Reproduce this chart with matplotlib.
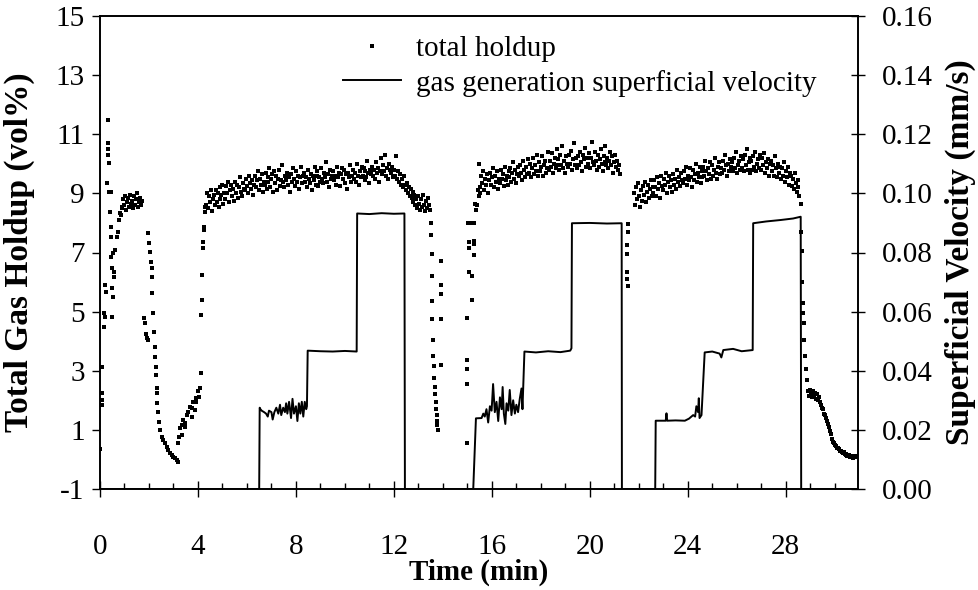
import numpy as np
import matplotlib.pyplot as plt
from matplotlib.ticker import MultipleLocator, FixedLocator, FormatStrFormatter

plt.rcParams['font.family'] = ['Liberation Serif', 'DejaVu Serif']
plt.rcParams['axes.unicode_minus'] = False

# ---- total holdup (vol%), transitions: explicit (time, value) pairs ----
start_t = [0.0, 0.07, 0.08, 0.08, 0.08, 0.18, 0.19, 0.18, 0.21, 0.23,
           0.34, 0.31, 0.32, 0.34, 0.35, 0.27, 0.37, 0.42, 0.45,
           0.41, 0.45, 0.44, 0.45, 0.54, 0.48, 0.58, 0.58, 0.50, 0.54, 0.50,
           0.63, 0.68, 0.72, 0.77, 0.81, 0.85, 0.88]
start_v = [0.34, 2.24, 2.0, 1.84, 3.12, 4.94, 4.83, 4.49, 5.9, 5.68,
           11.48, 10.69, 10.5, 10.3, 10.02, 9.34, 9.06, 9.06, 9.06,
           8.38, 7.87, 7.54, 6.86, 6.97, 6.47, 6.35, 6.18, 5.79, 5.51, 4.83,
           7.08, 7.54, 7.7, 8.1, 8.33, 8.27, 8.55]

# small plateau 0.9 - 1.7 min (0.04 min sampling)
p0_start = 0.9
p0_v = [8.5, 8.8, 8.6, 8.9, 8.45, 8.7, 8.85, 8.55, 8.95, 8.65, 8.75,
        8.5, 8.9, 8.6, 8.8, 9.0, 8.55, 8.7, 8.85, 8.6, 8.75]

fall1_t = [1.81, 1.84, 1.87, 1.91, 1.95, 1.97, 1.99, 2.04, 2.08, 2.11, 2.13,
           2.14, 2.17, 2.21, 2.24, 2.24, 2.27, 2.27, 2.31, 2.32, 2.34, 2.38,
           2.41, 2.47, 2.52, 2.59, 2.65, 2.72, 2.79, 2.86, 2.93, 3.0, 3.06,
           3.13, 3.17]
fall1_v = [4.77, 4.6, 4.26, 4.1, 4.04, 7.65, 7.31, 7.03, 6.69, 6.47, 6.18,
           5.62, 4.94, 4.32, 3.81, 3.48, 3.14, 2.86, 2.41, 2.24, 1.9, 1.62,
           1.28, 0.99, 0.77, 0.66, 0.55, 0.43, 0.32, 0.21, 0.15, 0.09, 0.04,
           -0.02, -0.08]

rise1_t = [3.2, 3.22, 3.27, 3.33, 3.34, 3.4, 3.47, 3.49, 3.54, 3.6, 3.67,
           3.74, 3.76, 3.81, 3.88, 3.9, 3.94, 4.01, 4.04, 4.08, 4.12, 4.12,
           4.18, 4.18, 4.22, 4.22, 4.26, 4.26, 4.29, 4.29]
rise1_v = [0.55, 0.77, 1.05, 1.17, 0.83, 1.33, 1.22, 1.11, 1.5, 1.62, 1.78,
           1.45, 1.73, 1.95, 1.67, 2.07, 1.95, 2.3, 2.12, 2.41, 2.91, 4.89,
           5.4, 6.24, 7.14, 7.37, 7.76, 7.87, 8.38, 8.55]

# plateau 1, 4.32 - 12.40 min
p1_start = 4.32
p1_v = [8.6, 9.0, 8.5, 8.9, 8.7, 9.1, 8.4, 8.8, 8.95, 8.6,
        9.1, 8.7, 9.0, 8.55, 9.2, 8.8, 8.95, 9.3, 8.65, 9.0,
        8.8, 9.25, 9.0, 9.4, 8.7, 9.1, 9.3, 8.9, 9.15, 8.75,
        9.4, 9.0, 9.3, 8.85, 9.2, 9.55, 9.05, 8.9, 9.35, 9.15,
        9.1, 9.5, 9.25, 9.0, 9.6, 9.35, 9.15, 9.45, 8.95, 9.3,
        9.6, 9.2, 9.45, 9.75, 9.1, 9.5, 9.3, 9.65, 9.05, 9.4,
        9.3, 9.7, 9.15, 9.55, 9.4, 9.85, 9.2, 9.5, 9.65, 9.05,
        9.75, 9.35, 9.6, 9.1, 9.5, 9.8, 9.25, 9.45, 9.95, 9.4,
        9.2, 9.6, 9.45, 9.7, 9.3, 9.55, 9.05, 9.65, 9.4, 9.85,
        9.5, 9.25, 9.75, 9.4, 9.6, 9.15, 9.55, 9.9, 9.35, 9.6,
        9.7, 9.4, 9.55, 9.2, 9.8, 9.5, 9.35, 9.65, 9.1, 9.6,
        9.45, 9.9, 9.3, 9.6, 9.75, 9.25, 9.55, 9.4, 9.85, 9.5,
        9.35, 9.7, 9.55, 10.05, 9.4, 9.65, 9.2, 9.8, 9.5, 9.6,
        9.75, 9.45, 9.6, 9.3, 9.9, 9.55, 9.7, 9.25, 9.65, 9.85,
        9.5, 9.8, 9.35, 9.65, 9.15, 9.7, 9.55, 9.95, 9.4, 9.6,
        9.8, 9.5, 9.7, 9.4, 10.0, 9.6, 9.3, 9.75, 9.55, 9.9,
        9.6, 9.85, 9.45, 9.75, 9.55, 10.1, 9.7, 9.35, 9.8, 9.65,
        9.9, 9.6, 9.8, 9.5, 10.05, 9.7, 9.85, 9.4, 9.75, 10.2,
        9.65, 9.95, 9.75, 10.3, 9.6, 9.85, 9.5, 10.0, 9.8, 9.7,
        9.9, 9.55, 9.8, 9.6, 10.25, 9.5, 9.75, 9.4, 9.65, 9.3,
        9.5, 9.2, 9.6]

# shoulder after gas stopped, 12.44 - 13.48 min
p1b_start = 12.44
p1b_v = [9.3, 9.1, 9.35, 9.0, 9.2, 8.9, 9.15, 8.85, 9.05, 8.7, 8.95, 8.6,
         8.8, 8.5, 8.9, 8.65, 8.45, 8.8, 8.55, 8.95, 8.6, 8.4, 8.75, 8.5,
         8.85, 8.6, 8.45]

fall2_t = [13.52, 13.53, 13.54, 13.55, 13.56, 13.57, 13.58, 13.6, 13.62,
           13.64, 13.66, 13.68, 13.7, 13.72, 13.74, 13.76, 13.78, 13.8,
           13.92, 13.92, 13.92, 13.93, 13.93]
fall2_v = [8.0, 7.6, 6.95, 6.2, 5.35, 4.75, 4.05, 3.5, 3.15, 2.75, 2.45,
           2.2, 1.95, 1.7, 1.5, 1.3, 1.15, 1.0,
           6.7, 5.9, 5.6, 4.75, 3.2]

rise2_t = [14.97, 14.98, 14.98, 14.98, 14.99, 15.05, 15.08, 15.08, 15.02,
           15.1, 15.18, 15.17, 15.28, 15.28, 15.28, 15.29, 15.32, 15.36,
           15.4, 15.45, 15.48, 15.5, 15.47]
rise2_v = [0.55, 2.55, 3.05, 3.35, 4.8, 6.35, 7.15, 7.35, 8.0, 8.0, 5.4,
           6.2, 8.0, 7.4, 7.3, 6.9, 8.65, 8.45, 8.6, 9.1, 8.9, 9.0, 10.0]

# plateau 2, 15.52 - 21.24 min
p2_start = 15.52
p2_v = [9.2, 9.6, 9.35, 9.75, 9.1, 9.5, 9.3, 9.65, 9.0, 9.45,
        9.7, 9.3, 9.55, 9.85, 9.2, 9.6, 9.4, 9.75, 9.15, 9.5,
        9.35, 9.8, 9.5, 9.65, 9.25, 9.9, 9.45, 9.6, 9.3, 9.75,
        9.55, 9.85, 9.4, 9.7, 10.05, 9.5, 9.8, 9.35, 9.65, 9.9,
        9.6, 9.95, 9.7, 9.45, 10.1, 9.8, 9.55, 9.9, 9.65, 10.15,
        9.7, 10.0, 9.55, 9.85, 10.2, 9.65, 9.95, 9.75, 10.3, 9.6,
        10.05, 9.75, 9.9, 10.25, 9.6, 9.95, 10.1, 9.7, 9.85, 10.4,
        9.8, 10.1, 9.9, 10.35, 9.7, 10.0, 10.2, 9.85, 10.5, 9.95,
        10.15, 9.8, 10.3, 9.95, 10.6, 9.85, 10.1, 9.7, 10.25, 10.0,
        9.9, 10.3, 10.0, 10.45, 9.8, 10.15, 10.7, 9.95, 10.2, 9.85,
        10.25, 9.95, 10.4, 10.05, 9.75, 10.3, 10.15, 10.55, 9.9, 10.2,
        10.0, 10.35, 9.85, 10.2, 10.75, 10.05, 9.95, 10.4, 10.1, 9.8,
        10.3, 9.9, 10.15, 10.5, 10.0, 9.75, 10.25, 10.05, 10.6, 9.95,
        10.2, 9.85, 10.1, 10.4, 9.95, 10.25, 9.7, 10.05, 10.3, 9.9,
        10.1, 9.8, 9.95, 9.65]

dip_t = [21.55, 21.56, 21.52, 21.53, 21.5, 21.52, 21.54]
dip_v = [7.95, 7.7, 7.25, 6.95, 6.35, 6.1, 5.85]

p2b_start = 21.8
p2b_v = [9.0, 8.6, 9.2, 8.8, 9.35, 8.9, 8.55, 9.1, 8.75, 9.25, 8.95, 9.4,
         8.7, 9.05, 9.3, 8.85, 9.15, 9.45, 8.9, 9.2]

# plateau 3, 22.60 - 28.56 min
p3_start = 22.6
p3_v = [9.0, 9.45, 9.2, 8.9, 9.55, 9.15, 9.35, 8.85, 9.6, 9.25,
        9.1, 9.5, 9.3, 9.7, 9.0, 9.4, 9.6, 9.2, 9.45, 9.05,
        9.65, 9.3, 9.5, 9.15, 9.8, 9.4, 9.55, 9.25, 9.7, 9.45,
        9.35, 9.75, 9.5, 9.9, 9.3, 9.6, 9.45, 9.85, 9.55, 9.2,
        9.8, 9.45, 9.65, 10.0, 9.4, 9.7, 9.55, 9.9, 9.35, 9.75,
        9.55, 9.9, 9.6, 10.1, 9.75, 9.45, 9.85, 9.65, 10.05, 9.5,
        9.95, 9.6, 9.8, 10.2, 9.7, 9.5, 9.9, 10.05, 9.65, 9.85,
        9.7, 10.1, 9.8, 10.3, 9.95, 9.6, 10.0, 9.75, 10.15, 9.9,
        10.05, 9.75, 10.2, 9.85, 10.4, 9.7, 9.95, 10.1, 9.8, 10.25,
        9.85, 10.15, 9.75, 10.3, 9.95, 10.5, 9.8, 10.05, 9.7, 10.2,
        10.1, 9.8, 10.25, 9.9, 10.4, 9.75, 10.0, 10.15, 9.85, 10.3,
        9.8, 10.2, 9.95, 10.35, 9.7, 10.05, 9.85, 10.15, 9.6, 10.0,
        10.1, 9.75, 9.95, 9.6, 10.25, 9.85, 9.55, 10.0, 9.7, 9.9,
        9.5, 9.85, 9.6, 10.05, 9.4, 9.75, 9.55, 9.9, 9.3, 9.7,
        9.6, 9.25, 9.5, 9.15, 9.7, 9.35, 9.05, 9.45, 9.2, 8.9]

fall3_t = [28.62, 28.64, 28.66, 28.68, 28.7, 28.72, 28.74, 28.76, 28.8,
           28.84, 28.88,
           28.92, 28.96, 29.0, 29.04, 29.08, 29.12, 29.16, 29.2, 29.24, 29.28,
           29.32, 29.36, 29.4, 29.44, 29.48, 29.52, 29.56, 29.6, 29.64, 29.68,
           29.72, 29.76, 29.8, 29.84, 29.88, 29.92, 29.96, 30.0, 30.04, 30.08,
           30.12, 30.16, 30.2, 30.24, 30.28, 30.32, 30.36, 30.4, 30.44, 30.48,
           30.52, 30.56, 30.6, 30.64, 30.68, 30.72, 30.76, 30.8, 30.84, 30.88]
fall3_v = [8.65, 7.7, 7.05, 6.0, 5.3, 4.95, 4.6, 4.05, 3.5, 3.05, 2.7,
           2.3, 2.15, 2.35, 2.2, 2.1, 2.3, 2.15, 2.25, 2.05, 2.2,
           2.0, 2.1, 1.95, 1.85, 1.75, 1.7, 1.55, 1.5, 1.4, 1.3,
           1.2, 1.1, 0.95, 0.85, 0.7, 0.6, 0.55, 0.5, 0.45, 0.4,
           0.38, 0.35, 0.3, 0.28, 0.25, 0.22, 0.25, 0.18, 0.15, 0.2,
           0.12, 0.1, 0.15, 0.08, 0.12, 0.1, 0.05, 0.12, 0.08, 0.1]

# ---- gas generation superficial velocity (mm/s) ----
vel_t = [0.0, 6.5, 6.52, 6.55, 6.6, 6.7, 6.78, 6.85, 6.9, 7.0, 7.05, 7.12,
         7.2, 7.28, 7.35, 7.4, 7.48, 7.55, 7.6, 7.65, 7.72, 7.8, 7.86, 7.92,
         8.0, 8.06, 8.12, 8.18, 8.24, 8.3, 8.36, 8.42, 8.45, 8.48,
         9.0, 9.5, 10.0, 10.48, 10.5, 11.0, 11.5, 12.0, 12.43, 12.45,
         15.24, 15.35, 15.58, 15.65, 15.71, 15.78, 15.85, 15.92, 15.99, 16.05,
         16.12, 16.19, 16.26, 16.33, 16.4, 16.44, 16.49, 16.55, 16.6, 16.67,
         16.73, 16.8, 16.87, 16.94, 17.0, 17.07, 17.14, 17.21, 17.25, 17.33,
         17.8, 18.3, 18.8, 19.2, 19.25, 19.27, 20.0, 20.7, 21.3, 21.31,
         22.67, 22.69, 23.1, 23.13, 23.16, 23.5, 23.88, 24.05, 24.22, 24.3,
         24.35, 24.42, 24.45, 24.48, 24.56, 24.69, 25.0, 25.3, 25.37, 25.45,
         25.85, 26.2, 26.65, 26.67, 27.2, 27.8, 28.3, 28.61, 28.63, 31.0]
vel_v = [0.0, 0.0, 0.0275, 0.027, 0.0265, 0.026, 0.0255, 0.0245, 0.0265,
         0.026, 0.0235, 0.026, 0.0275, 0.0255, 0.0285, 0.025, 0.0275, 0.026,
         0.029, 0.0255, 0.0295, 0.024, 0.0305, 0.0255, 0.028, 0.023, 0.029,
         0.0255, 0.0295, 0.0245, 0.0295, 0.027, 0.028, 0.0468,
         0.0466, 0.0465, 0.0467, 0.0465, 0.0932, 0.093, 0.0933, 0.0931,
         0.0932, 0.0,
         0.0, 0.0239, 0.024, 0.0255, 0.0245, 0.027, 0.0225, 0.028, 0.0265,
         0.0355, 0.026, 0.0295, 0.023, 0.031, 0.027, 0.0345, 0.0255, 0.022,
         0.029, 0.0265, 0.0335, 0.025, 0.03, 0.0255, 0.0285, 0.026, 0.0305,
         0.034, 0.027, 0.0465,
         0.0462, 0.0466, 0.0463, 0.0468, 0.0476, 0.0899, 0.09, 0.0898,
         0.0899, 0.0,
         0.0, 0.0231, 0.0231, 0.0256, 0.0231, 0.0232, 0.0231, 0.0238, 0.025,
         0.0245, 0.028, 0.026, 0.0307, 0.024, 0.025, 0.0462, 0.0465, 0.0458,
         0.0445, 0.047, 0.0474, 0.0466, 0.047, 0.0899, 0.0905, 0.091, 0.0915,
         0.0921, 0.0, 0.0]

left_ticks = [-1, 1, 3, 5, 7, 9, 11, 13, 15]


def grid(start, vals):
    return start + 0.04 * np.arange(len(vals))


hold_t = np.concatenate([start_t, grid(p0_start, p0_v), fall1_t, rise1_t,
                         grid(p1_start, p1_v), grid(p1b_start, p1b_v),
                         fall2_t, rise2_t, grid(p2_start, p2_v), dip_t,
                         grid(p2b_start, p2b_v), grid(p3_start, p3_v),
                         fall3_t])
hold_v = np.concatenate([start_v, p0_v, fall1_v, rise1_v, p1_v, p1b_v,
                         fall2_v, rise2_v, p2_v, dip_v, p2b_v, p3_v, fall3_v])

fig = plt.figure(figsize=(9.79, 5.90), dpi=100)
ax = fig.add_axes([100 / 979, 1 - 489 / 590, 758 / 979, 473 / 590])
ax2 = ax.twinx()

pts, = ax.plot(hold_t, hold_v, 's', color='black', ms=3.0, mew=0,
               linestyle='none', label='total holdup')
vel, = ax2.plot(vel_t, vel_v, color='black', lw=1.4,
                label='gas generation superficial velocity')

ax.set_xlim(0, 30.95)
ax.set_ylim(-1, 15)
ax2.set_ylim(0, 0.16)

ax.xaxis.set_major_locator(MultipleLocator(4))
ax.xaxis.set_minor_locator(MultipleLocator(1))
ax.yaxis.set_major_locator(FixedLocator(left_ticks))
ax2.yaxis.set_major_locator(MultipleLocator(0.02))
ax2.yaxis.set_major_formatter(FormatStrFormatter('%.2f'))

ax.tick_params(axis='x', which='major', direction='inout', length=11,
               width=1, labelsize=21, pad=27)
ax.tick_params(axis='x', which='minor', direction='in', length=4, width=1)
ax.tick_params(axis='y', direction='out', length=6, width=1, labelsize=21,
               pad=5)
ax2.tick_params(axis='y', direction='inout', length=10, width=1,
                labelsize=21, pad=12)

for a in (ax, ax2):
    for s in a.spines.values():
        s.set_linewidth(1.2)

ax.set_xlabel('Time (min)', fontsize=21, fontweight='bold')
ax.set_ylabel('Total Gas Holdup (vol%)', fontsize=24, fontweight='bold')
ax2.set_ylabel('Superficial Velocity (mm/s)', fontsize=24, fontweight='bold')
ax.xaxis.set_label_coords(0.5, -0.148)
ax.yaxis.set_label_coords(-0.086, 0.5)
ax2.yaxis.set_label_coords(1.114, 0.5)

fig.legend([pts, vel], [pts.get_label(), vel.get_label()],
           loc='upper left', bbox_to_anchor=(343 / 979, 1 - 36 / 590),
           bbox_transform=fig.transFigure, frameon=False, fontsize=21,
           numpoints=1, handlelength=2.0, handletextpad=0.5,
           labelspacing=0.25, borderpad=0, borderaxespad=0)

fig.savefig('out.png', dpi=100)
